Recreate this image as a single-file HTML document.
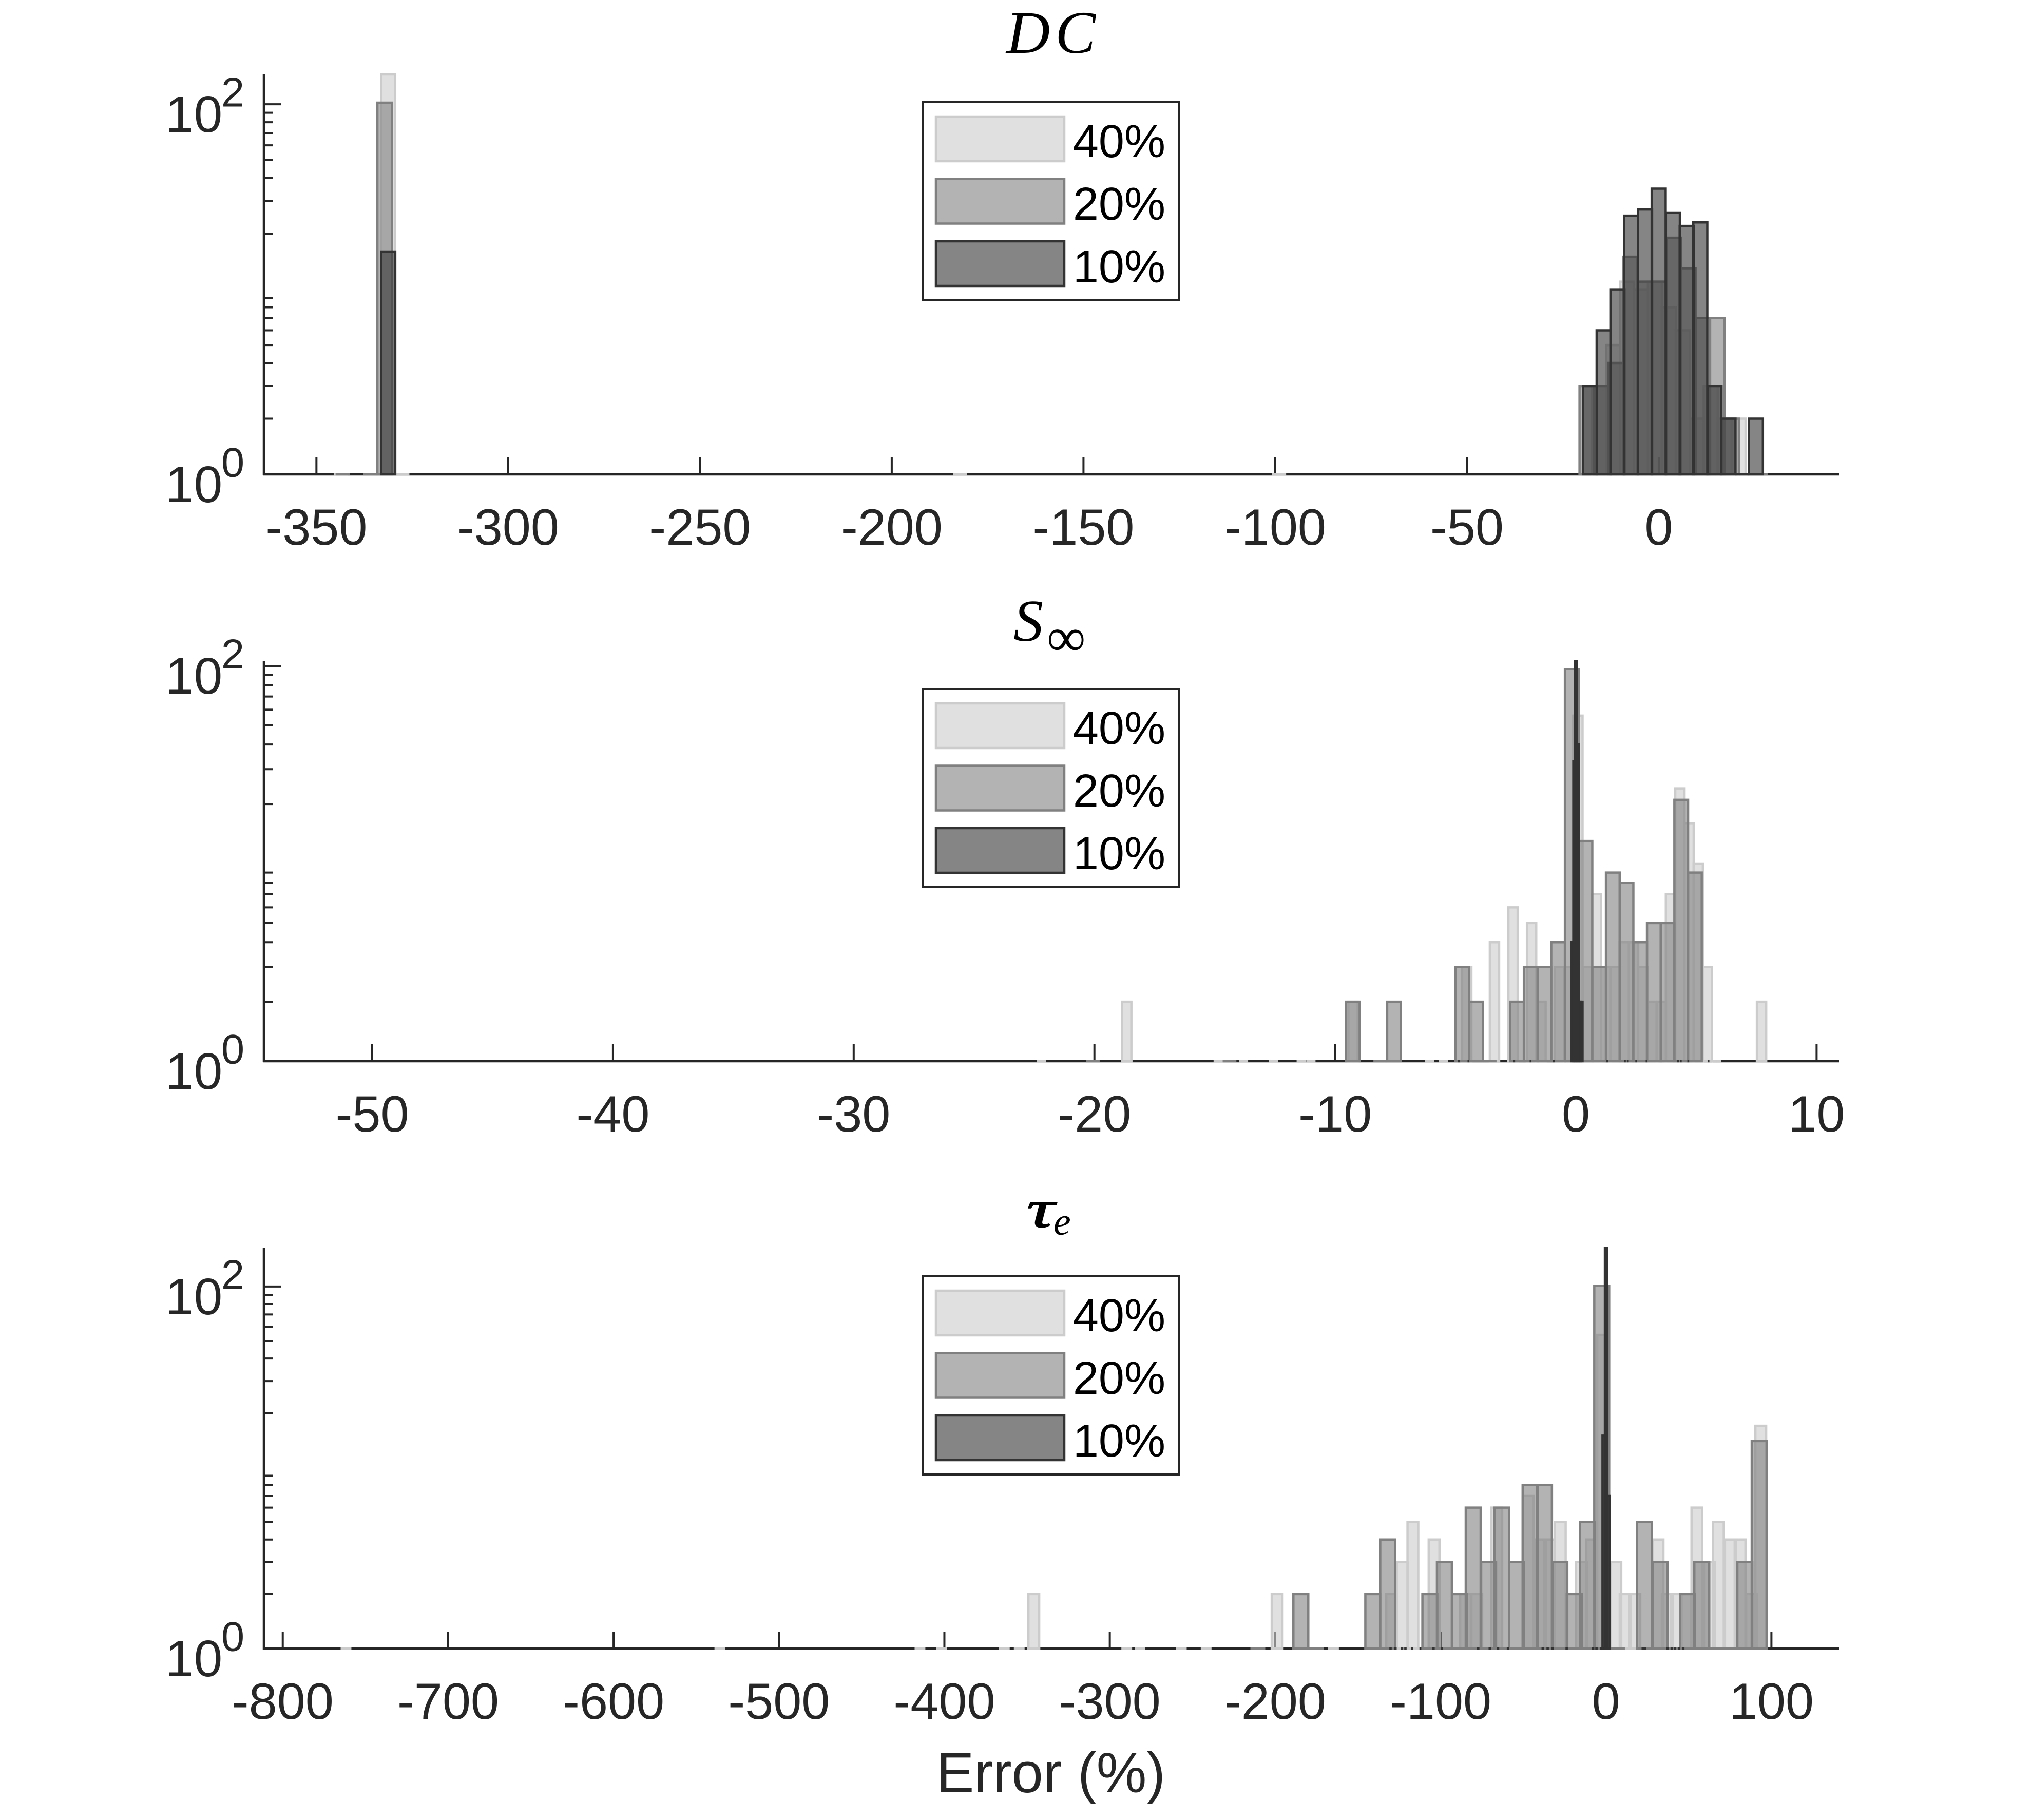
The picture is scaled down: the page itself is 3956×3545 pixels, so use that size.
<!DOCTYPE html>
<html lang="en">
<head>
<meta charset="utf-8">
<title>Error histograms</title>
<style>
html,body{margin:0;padding:0;background:#fff;}
svg{display:block;}
text{font-family:"Liberation Sans",Arial,sans-serif;}
.math{font-family:"Liberation Serif","DejaVu Serif",serif;font-style:italic;fill:#000;}
</style>
</head>
<body>
<svg id="chart" xmlns="http://www.w3.org/2000/svg" width="3956" height="3545" viewBox="0 0 3956 3545">
  <rect x="0" y="0" width="3956" height="3545" fill="#ffffff"/>
  <g id="panels"></g>
  <text class="math" x="1960" y="103" font-size="118" textLength="174" lengthAdjust="spacing">DC</text>
  <text class="math" x="1974" y="1248" font-size="116">S</text>
  <text class="math" x="2039" y="1277" font-size="106" style="font-style:normal">∞</text>
  <text class="math" transform="translate(2000 2390) scale(1.45 1)" x="0" y="0" font-size="104" stroke="#000" stroke-width="1.5">τ</text>
  <text class="math" x="2052" y="2405" font-size="76">e</text>
  <text x="2047" y="3491" font-size="110" fill="#262626" text-anchor="middle">Error (%)</text>
</svg>
<script>
// ---- tick labels ----
const dcTicks = [-350, -300, -250, -200, -150, -100, -50, 0];
const sinfTicks = [-50, -40, -30, -20, -10, 0, 10];
const tauTicks = [-800, -700, -600, -500, -400, -300, -200, -100, 0, 100];
const legendLabels = ['40%', '20%', '10%'];

// ---- DC panel: left bin edges (%) and counts ----
const dc40Edges = [-345.5, -333.1, -329.4, -184, -100.8, -17.4, -13.75, -10.1, -6.47, -2.83, 0.8, 4.44, 8.08, 11.72, 15.35, 19];
const dc40Counts = [1, 145, 1, 1, 1, 3, 5, 11, 10, 11, 8, 6, 2, 3, 2, 2];
const dc20Edges = [-345, -337.8, -334.1, -20.66, -16.87, -13.12, -9.33, -5.53, -1.78, 2.01, 5.8, 9.6, 13.35, 17.14, 20.9, 24.6];
const dc20Counts = [1, 1, 102, 3, 3, 4, 15, 11, 11, 19, 13, 7, 7, 2, 1, 1];
const dc10Edges = [-333.1, -19.77, -16.2, -12.6, -9.05, -5.4, -1.85, 1.85, 5.45, 9, 12.7, 16.35, 19.95, 23.5];
const dc10Counts = [16, 3, 6, 10, 25, 27, 35, 26, 22, 23, 3, 2, 1, 2];

// ---- S-infinity panel ----
const sinf40Edges = [-22.4, -18.85, -15.05, -14, -12.75, -11.6, -11.2, -9.45, -6.27, -5.7, -4.726, -3.574, -2.803, -2.032, -1.641, -0.88, -0.49, -0.108, 0.282, 0.663, 1.044, 1.434, 1.815, 2.205, 2.586, 2.967, 3.357, 3.738, 4.128, 4.509, 4.89, 5.271, 5.66, 7.52];
const sinf40Counts = [1, 2, 1, 1, 1, 1, 1, 2, 1, 1, 3, 4, 6, 5, 2, 3, 3, 56, 3, 7, 3, 3, 4, 4, 3, 2, 2, 7, 24, 16, 10, 3, 1, 2];
const sinf20Edges = [-20.35, -14.67, -9.55, -8.41, -7.84, -5, -4.434, -3.865, -2.729, -2.16, -1.592, -1.023, -0.455, 0.113, 0.682, 1.25, 1.819, 2.387, 2.955, 3.524, 4.092, 4.66];
const sinf20Counts = [1, 1, 2, 1, 2, 3, 2, 1, 2, 3, 3, 4, 96, 13, 3, 9, 8, 4, 5, 5, 21, 9];
const sinf10Edges = [-4.9, -4.5, -2.6, -1.92, -0.96, -0.18, -0.104, -0.028, 0.049, 0.125, 0.2, 1.27, 2, 2.12, 2.47, 2.9, 4.2, 4.32, 4.63, 5.47];
const sinf10Counts = [1, 1, 1, 1, 1, 4, 33, 105.5, 40, 2, 2, 1, 1, 1, 1, 1, 1, 1, 1, 1];

// ---- tau-e panel ----
const tau40Edges = [-765, -539, -418, -405, -367, -358, -349.2, -293, -285, -260, -245, -215, -202.1, -178, -168, -132.9, -126.5, -120, -107.2, -88.2, -81.4, -69.3, -50.4, -42.9, -37.4, -30.9, -18.1, -11.9, -5.3, 2.7, 8.3, 14.2, 28.2, 33.8, 39.2, 44.8, 51.7, 59.2, 64.7, 71.9, 77.8, 84.7, 90.3];
const tau40Counts = [1, 1, 1, 1, 1, 1, 2, 1, 1, 1, 1, 1, 2, 1, 1, 2, 3, 5, 4, 2, 2, 6, 7, 4, 4, 5, 3, 4, 54, 3, 2, 2, 4, 2, 2, 2, 6, 3, 5, 4, 4, 2, 17];
const tau20Edges = [-215, -189, -179.5, -145.5, -136.5, -111, -102.2, -93.1, -84.8, -75.5, -67.5, -58.6, -50.4, -41.7, -32.4, -23.7, -15.8, -7.1, 2.4, 18.65, 28.2, 36, 44.8, 53.4, 62.5, 71, 79.4, 88.1];
const tau20Counts = [1, 2, 1, 2, 4, 2, 3, 2, 6, 3, 6, 3, 8, 8, 3, 2, 5, 101, 1, 5, 3, 1, 2, 3, 1, 1, 3, 14];
const tau10Edges = [-131, -128, -124, -122, -118, -105, -100, -78, -71, -66, -60, -39, -36, -33, -24.5, -8.5, -6.5, -3.5, -2.11, -0.66, 0.79, 21.5, 23, 36.5, 39, 41, 43.5, 46];
const tau10Counts = [1, 1, 1, 1, 1, 1, 1, 1, 1, 1, 1, 1, 1, 1, 1, 1, 1, 1, 15, 163, 7, 1, 1, 1, 1, 1, 1, 1];

// ---- layout (not data) ----
const AXIS_LEFT = 514, AXIS_RIGHT = 3582;
const INK = '#262626';
const SERIES_COLORS = ['#cccccc', '#808080', '#333333'];
const SERIES_NAMES = ['40-percent', '20-percent', '10-percent'];
const SVG_NS = 'http://www.w3.org/2000/svg';

const panels = [
  { name: 'dc', top: 145, bottom: 924, xmin: -363.7, xmax: 46.99, ymax: 145, ticks: dcTicks, legendDy: 0,
    series: [[dc40Edges, dc40Counts, 3.64], [dc20Edges, dc20Counts, 3.78], [dc10Edges, dc10Counts, 3.65]] },
  { name: 's-infinity', top: 1288, bottom: 2067, xmin: -54.5, xmax: 10.93, ymax: 105.5, ticks: sinfTicks, legendDy: 1143,
    series: [[sinf40Edges, sinf40Counts, 0.3847], [sinf20Edges, sinf20Counts, 0.5686], [sinf10Edges, sinf10Counts, 0.076]] },
  { name: 'tau', top: 2431, bottom: 3211, xmin: -811.4, xmax: 140.85, ymax: 163, ticks: tauTicks, legendDy: 2287,
    series: [[tau40Edges, tau40Counts, 6.5], [tau20Edges, tau20Counts, 9], [tau10Edges, tau10Counts, 1.45]] }
];

function svgEl(parent, tag, attrs) {
  const el = document.createElementNS(SVG_NS, tag);
  for (const k in attrs) el.setAttribute(k, attrs[k]);
  parent.appendChild(el);
  return el;
}

function drawPanel(p) {
  const root = document.getElementById('panels');
  const g = svgEl(root, 'g', {});
  
  

  const xScale = v => AXIS_LEFT + (v - p.xmin) / (p.xmax - p.xmin) * (AXIS_RIGHT - AXIS_LEFT);
  const yScale = c => p.bottom - Math.log10(c) / Math.log10(p.ymax) * (p.bottom - p.top);

  // axis lines
  const yAxis = svgEl(g, 'line', { x1: AXIS_LEFT, x2: AXIS_LEFT, y1: p.top, y2: p.bottom + 2, stroke: INK, 'stroke-width': 4.5 });
  
  
  const xAxis = svgEl(g, 'line', { x1: AXIS_LEFT - 2, x2: AXIS_RIGHT, y1: p.bottom, y2: p.bottom, stroke: INK, 'stroke-width': 4.5 });
  
  

  // x ticks + labels
  p.ticks.forEach(v => {
    const x = xScale(v);
    const t = svgEl(g, 'line', { x1: x, x2: x, y1: p.bottom, y2: p.bottom - 33, stroke: INK, 'stroke-width': 4 });
    
    
    const l = svgEl(g, 'text', { x: x, y: p.bottom + 137, 'font-size': 99, fill: INK, 'text-anchor': 'middle' });
    l.textContent = String(v);
    
    
  });

  // y ticks (log): majors at 1 and 100, minors 2..9 in each decade
  [1, 100].forEach((c, i) => {
    const y = yScale(c);
    const t = svgEl(g, 'line', { x1: AXIS_LEFT, x2: AXIS_LEFT + 33, y1: y, y2: y, stroke: INK, 'stroke-width': 4 });
    
    
    const ten = svgEl(g, 'text', { x: 322, y: y + 54, 'font-size': 100, fill: INK });
    ten.textContent = '10';
    
    
    const ex = svgEl(g, 'text', { x: 431, y: y + 4.5, 'font-size': 81, fill: INK });
    ex.textContent = String(i * 2);
    
    
  });
  [1, 10].forEach(d => {
    for (let m = 2; m <= 9; m++) {
      const y = yScale(d * m);
      const t = svgEl(g, 'line', { x1: AXIS_LEFT, x2: AXIS_LEFT + 17, y1: y, y2: y, stroke: INK, 'stroke-width': 4 });
      
      
    }
  });

  // histogram bars (drawn above the axes, as in the source figure)
  p.series.forEach((s, si) => {
    const sg = svgEl(g, 'g', {});
    
    
    const edges = s[0], counts = s[1], width = s[2];
    edges.forEach((e, i) => {
      const x0 = xScale(e), x1 = xScale(e + width), yT = yScale(counts[i]);
      const d = 'M' + x0 + ' ' + p.bottom + 'V' + yT + 'H' + x1 + 'V' + p.bottom + 'Z';
      const bar = svgEl(sg, 'path', {
        d: d, fill: SERIES_COLORS[si], 'fill-opacity': 0.6,
        stroke: SERIES_COLORS[si], 'stroke-width': 4.5, 'stroke-linejoin': 'miter'
      });
      
      
    });
  });

  // legend
  const dy = p.legendDy;
  const lg = svgEl(g, 'g', {});
  
  
  const box = svgEl(lg, 'rect', { x: 1798, y: 199 + dy, width: 498, height: 386, fill: '#ffffff', stroke: INK, 'stroke-width': 4 });
  
  
  legendLabels.forEach((lab, i) => {
    const sw = svgEl(lg, 'rect', {
      x: 1823, y: 227 + 121.5 * i + dy, width: 250, height: 87,
      fill: SERIES_COLORS[i], 'fill-opacity': 0.6, stroke: SERIES_COLORS[i], 'stroke-width': 4.5
    });
    
    
    const tx = svgEl(lg, 'text', { x: 2270, y: 306 + 122 * i + dy, 'font-size': 90, fill: '#000000', 'text-anchor': 'end' });
    tx.textContent = lab;
    
    
  });
}

panels.forEach(drawPanel);
</script>
</body>
</html>
